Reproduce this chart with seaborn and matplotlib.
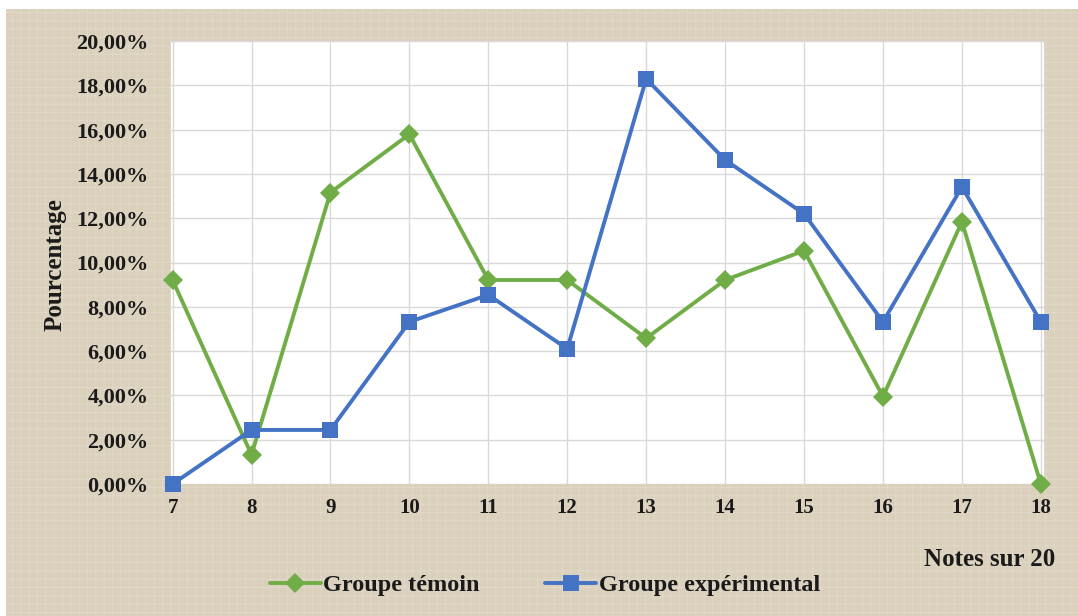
import matplotlib
matplotlib.use("Agg")
import matplotlib.pyplot as plt
import seaborn as sns
import pandas as pd
from matplotlib.patches import Rectangle
from matplotlib.ticker import FuncFormatter, MultipleLocator
from matplotlib.lines import Line2D

notes = [7, 8, 9, 10, 11, 12, 13, 14, 15, 16, 17, 18]
temoin = [9.21, 1.32, 13.16, 15.79, 9.21, 9.21, 6.58, 9.21, 10.53, 3.95, 11.84, 0.00]
experimental = [0.00, 2.44, 2.44, 7.32, 8.54, 6.10, 18.29, 14.63, 12.20, 7.32, 13.41, 7.32]
series_names = ["Groupe témoin", "Groupe expérimental"]
colors = ["#70AD47", "#4472C4"]
markers = ["D", "s"]
marker_sizes = [10, 11]

df = pd.DataFrame({"Note": notes * 2,
                   "Pourcentage": temoin + experimental,
                   "Groupe": [series_names[0]] * len(notes) + [series_names[1]] * len(notes)})

sns.set_theme(style="white")
plt.rcParams['font.family'] = ['Liberation Serif', 'DejaVu Serif']
plt.rcParams['font.weight'] = 'bold'
plt.rcParams['hatch.linewidth'] = 0.5

fig = plt.figure(figsize=(10.78, 6.16), dpi=100)
fig.patch.set_facecolor("white")

# textured beige background, leaving a thin white margin at top/left
bgax = fig.add_axes([0, 0, 1, 1], zorder=-5)
bgax.set_xlim(0, 1078)
bgax.set_ylim(616, 0)
bgax.axis("off")
bgax.add_patch(Rectangle((6, 9), 1078 - 6, 616 - 9, facecolor="#DAD0BC",
                         edgecolor="#E3DCCD", hatch="++", linewidth=0))

ax = fig.add_axes([171 / 1078, 1 - 484 / 616, (1044 - 171) / 1078, (484 - 41) / 616], zorder=2)
ax.set_facecolor("white")

sns.lineplot(data=df, x="Note", y="Pourcentage", hue="Groupe", style="Groupe",
             palette=colors, markers=markers, dashes=False, markersize=10,
             markeredgewidth=0, linewidth=2.8, ax=ax, legend=False, zorder=3)
for ln, ms in zip(ax.lines, marker_sizes):
    ln.set_clip_on(False)
    ln.set_markersize(ms)

ax.set_xlim(6.98, 18.04)
ax.set_ylim(0, 20)
ax.xaxis.set_major_locator(MultipleLocator(1))
ax.yaxis.set_major_locator(MultipleLocator(2))
ax.yaxis.set_major_formatter(FuncFormatter(lambda v, p: f"{v:.2f}".replace(".", ",") + "%"))
ax.grid(True, color="#D9D9D9", linewidth=1)
ax.set_axisbelow(True)
for s in ax.spines.values():
    s.set_visible(False)
ax.tick_params(axis="both", length=0, labelcolor="#1A1A1A")
ax.tick_params(axis="x", pad=10, labelsize=15)
ax.tick_params(axis="y", pad=16, labelsize=16)
for lab in ax.get_xticklabels() + ax.get_yticklabels():
    lab.set_fontweight("bold")

ax.set_xlabel("")
ax.set_ylabel("")
fig.text(55 / 1078, 1 - 265 / 616, "Pourcentage", rotation=90, ha="center", va="center",
         fontsize=18, fontweight="bold", color="#1A1A1A")
fig.text(990 / 1078, 1 - 560 / 616, "Notes sur 20", ha="center", va="center",
         fontsize=18, fontweight="bold", color="#1A1A1A")

handles = [Line2D([0], [0], color=c, marker=m, markersize=ms, linewidth=2.8, markeredgewidth=0)
           for c, m, ms in zip(colors, markers, marker_sizes)]
leg = fig.legend(handles, series_names, loc="center", bbox_to_anchor=(545 / 1078, 1 - 585 / 616),
                 ncol=2, frameon=False, prop={"size": 17.5, "weight": "bold"},
                 handlelength=2.1, handletextpad=0.1, columnspacing=2.7)
for t in leg.get_texts():
    t.set_color("#1A1A1A")

fig.savefig("out.png", dpi=100, facecolor=fig.get_facecolor())
